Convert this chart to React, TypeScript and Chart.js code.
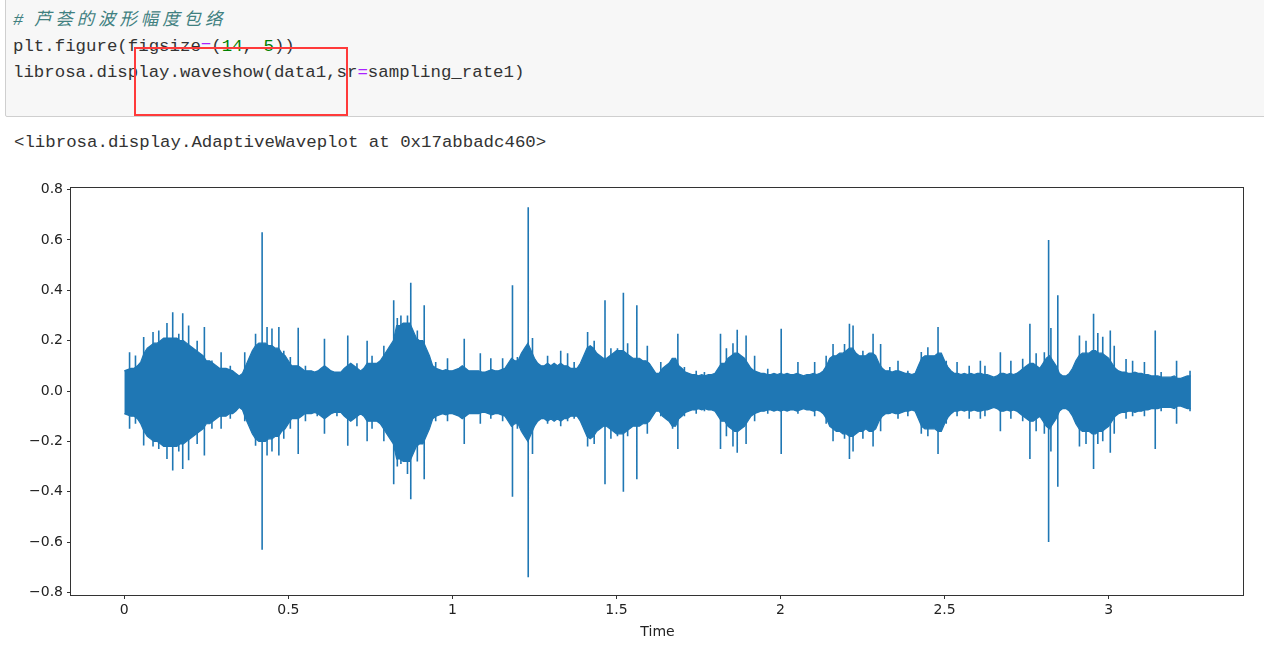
import React, { useEffect, useRef } from "react";
import { Chart, registerables } from "chart.js";

Chart.register(...registerables);

// dense body of the waveform, sampled every TIME_STEP seconds (upper / lower edge)
const TIME_STEP = 0.01;
const envHi = [
  0.08, 0.085, 0.09, 0.09, 0.10, 0.115, 0.15, 0.17, 0.18, 0.19,
  0.19, 0.20, 0.21, 0.21, 0.21, 0.21, 0.21, 0.20, 0.20, 0.19,
  0.18, 0.17, 0.16, 0.15, 0.14, 0.12, 0.12, 0.11, 0.10, 0.09,
  0.09, 0.09, 0.085, 0.08, 0.07, 0.06, 0.07, 0.10, 0.13, 0.16,
  0.18, 0.19, 0.19, 0.19, 0.18, 0.18, 0.17, 0.17, 0.15, 0.14,
  0.12, 0.10, 0.10, 0.10, 0.09, 0.08, 0.08, 0.08, 0.075, 0.08,
  0.09, 0.10, 0.09, 0.08, 0.075, 0.075, 0.075, 0.09, 0.10, 0.11,
  0.10, 0.09, 0.08, 0.09, 0.11, 0.11, 0.11, 0.11, 0.12, 0.14,
  0.16, 0.18, 0.20, 0.26, 0.26, 0.27, 0.27, 0.27, 0.24, 0.21,
  0.20, 0.20, 0.17, 0.14, 0.10, 0.09, 0.085, 0.08, 0.085, 0.08,
  0.08, 0.085, 0.09, 0.10, 0.09, 0.08, 0.08, 0.08, 0.08, 0.075,
  0.075, 0.08, 0.085, 0.08, 0.08, 0.085, 0.09, 0.11, 0.13, 0.12,
  0.12, 0.15, 0.17, 0.19, 0.16, 0.13, 0.11, 0.10, 0.10, 0.11,
  0.10, 0.11, 0.10, 0.11, 0.10, 0.10, 0.09, 0.09, 0.09, 0.11,
  0.14, 0.17, 0.18, 0.17, 0.15, 0.14, 0.13, 0.13, 0.14, 0.15,
  0.16, 0.16, 0.16, 0.15, 0.14, 0.13, 0.13, 0.13, 0.12, 0.12,
  0.11, 0.09, 0.07, 0.07, 0.09, 0.10, 0.11, 0.13, 0.13, 0.10,
  0.09, 0.075, 0.07, 0.065, 0.065, 0.06, 0.065, 0.06, 0.065, 0.065,
  0.07, 0.09, 0.11, 0.11, 0.13, 0.14, 0.15, 0.15, 0.14, 0.13,
  0.11, 0.09, 0.08, 0.075, 0.07, 0.07, 0.065, 0.065, 0.07, 0.065,
  0.07, 0.065, 0.07, 0.065, 0.065, 0.07, 0.065, 0.06, 0.065, 0.065,
  0.07, 0.065, 0.07, 0.08, 0.10, 0.13, 0.14, 0.14, 0.15, 0.15,
  0.16, 0.17, 0.17, 0.15, 0.14, 0.14, 0.14, 0.15, 0.15, 0.14,
  0.11, 0.09, 0.08, 0.08, 0.075, 0.08, 0.08, 0.075, 0.07, 0.07,
  0.065, 0.07, 0.10, 0.13, 0.14, 0.14, 0.14, 0.14, 0.15, 0.15,
  0.12, 0.095, 0.08, 0.07, 0.07, 0.065, 0.07, 0.065, 0.07, 0.065,
  0.07, 0.07, 0.065, 0.065, 0.06, 0.055, 0.06, 0.07, 0.07, 0.065,
  0.07, 0.065, 0.07, 0.08, 0.09, 0.10, 0.11, 0.11, 0.10, 0.09,
  0.11, 0.13, 0.14, 0.12, 0.10, 0.07, 0.06, 0.06, 0.07, 0.09,
  0.12, 0.14, 0.15, 0.15, 0.15, 0.16, 0.16, 0.15, 0.15, 0.14,
  0.13, 0.11, 0.09, 0.08, 0.075, 0.075, 0.07, 0.07, 0.075, 0.07,
  0.07, 0.065, 0.065, 0.06, 0.06, 0.06, 0.055, 0.055, 0.055, 0.055,
  0.06, 0.05, 0.05, 0.055, 0.06, 0.06,
];
const envLo = [
  -0.09, -0.095, -0.10, -0.10, -0.11, -0.13, -0.16, -0.18, -0.19, -0.20,
  -0.20, -0.21, -0.22, -0.22, -0.22, -0.22, -0.22, -0.21, -0.21, -0.20,
  -0.19, -0.18, -0.17, -0.16, -0.15, -0.13, -0.13, -0.12, -0.11, -0.10,
  -0.10, -0.10, -0.09, -0.09, -0.08, -0.065, -0.075, -0.11, -0.14, -0.17,
  -0.19, -0.20, -0.20, -0.20, -0.19, -0.19, -0.18, -0.18, -0.16, -0.15,
  -0.13, -0.11, -0.11, -0.11, -0.10, -0.09, -0.09, -0.09, -0.085, -0.09,
  -0.10, -0.11, -0.10, -0.09, -0.085, -0.085, -0.085, -0.10, -0.11, -0.12,
  -0.11, -0.10, -0.09, -0.10, -0.12, -0.12, -0.12, -0.12, -0.13, -0.15,
  -0.17, -0.19, -0.21, -0.27, -0.27, -0.28, -0.28, -0.28, -0.25, -0.22,
  -0.21, -0.21, -0.18, -0.15, -0.11, -0.10, -0.095, -0.09, -0.095, -0.09,
  -0.09, -0.095, -0.10, -0.11, -0.10, -0.09, -0.09, -0.09, -0.09, -0.085,
  -0.085, -0.09, -0.095, -0.09, -0.09, -0.095, -0.10, -0.12, -0.14, -0.13,
  -0.13, -0.16, -0.18, -0.20, -0.17, -0.14, -0.12, -0.11, -0.11, -0.12,
  -0.11, -0.12, -0.11, -0.12, -0.11, -0.11, -0.10, -0.10, -0.10, -0.12,
  -0.15, -0.18, -0.19, -0.18, -0.16, -0.15, -0.14, -0.14, -0.15, -0.16,
  -0.17, -0.17, -0.17, -0.16, -0.15, -0.14, -0.14, -0.14, -0.13, -0.13,
  -0.12, -0.10, -0.08, -0.08, -0.10, -0.11, -0.12, -0.14, -0.14, -0.11,
  -0.10, -0.085, -0.08, -0.075, -0.075, -0.07, -0.075, -0.07, -0.075, -0.075,
  -0.08, -0.10, -0.12, -0.12, -0.14, -0.15, -0.16, -0.16, -0.15, -0.14,
  -0.12, -0.10, -0.09, -0.085, -0.08, -0.08, -0.075, -0.075, -0.08, -0.075,
  -0.08, -0.075, -0.08, -0.075, -0.075, -0.08, -0.075, -0.07, -0.075, -0.075,
  -0.08, -0.075, -0.08, -0.09, -0.11, -0.14, -0.15, -0.16, -0.16, -0.17,
  -0.17, -0.18, -0.18, -0.17, -0.16, -0.16, -0.15, -0.16, -0.16, -0.15,
  -0.12, -0.10, -0.09, -0.09, -0.085, -0.09, -0.09, -0.085, -0.08, -0.08,
  -0.075, -0.08, -0.11, -0.14, -0.15, -0.15, -0.15, -0.15, -0.16, -0.16,
  -0.13, -0.105, -0.09, -0.08, -0.08, -0.075, -0.08, -0.075, -0.08, -0.075,
  -0.08, -0.08, -0.075, -0.075, -0.07, -0.065, -0.07, -0.08, -0.08, -0.075,
  -0.08, -0.075, -0.08, -0.09, -0.10, -0.11, -0.12, -0.12, -0.11, -0.10,
  -0.12, -0.14, -0.15, -0.13, -0.11, -0.08, -0.07, -0.07, -0.08, -0.10,
  -0.13, -0.15, -0.16, -0.16, -0.16, -0.17, -0.17, -0.16, -0.16, -0.15,
  -0.14, -0.12, -0.10, -0.09, -0.085, -0.085, -0.08, -0.08, -0.085, -0.08,
  -0.08, -0.075, -0.075, -0.07, -0.07, -0.07, -0.065, -0.065, -0.065, -0.065,
  -0.07, -0.06, -0.06, -0.065, -0.07, -0.07,
];

// individual peaks ("hairs") sticking out of the body
const spikeTime = [
  0.016, 0.034, 0.059, 0.0875, 0.105, 0.130, 0.1475, 0.166, 0.178, 0.196,
  0.222, 0.244, 0.267, 0.295, 0.323, 0.367, 0.400, 0.420, 0.435, 0.450,
  0.471, 0.486, 0.506, 0.530, 0.552, 0.588, 0.610, 0.648, 0.681, 0.709,
  0.740, 0.755, 0.791, 0.821, 0.832, 0.843, 0.863, 0.873, 0.893, 0.914,
  0.949, 0.985, 1.036, 1.085, 1.117, 1.153, 1.183, 1.198, 1.231, 1.244,
  1.290, 1.330, 1.351, 1.371, 1.412, 1.432, 1.465, 1.483, 1.503, 1.521,
  1.534, 1.562, 1.594, 1.635, 1.671, 1.687, 1.707, 1.743, 1.768, 1.817,
  1.835, 1.855, 1.868, 1.895, 1.921, 1.961, 2.002, 2.053, 2.104, 2.139,
  2.160, 2.195, 2.210, 2.221, 2.251, 2.282, 2.305, 2.333, 2.358, 2.388,
  2.429, 2.449, 2.480, 2.505, 2.538, 2.575, 2.609, 2.623, 2.670, 2.702,
  2.738, 2.760, 2.779, 2.804, 2.817, 2.824, 2.845, 2.911, 2.931, 2.954,
  2.967, 2.982, 3.005, 3.017, 3.053, 3.073, 3.109, 3.142, 3.160, 3.207,
  3.248,
];
const spikeHi = [
  0.154, 0.141, 0.214, 0.234, 0.24, 0.27, 0.313, 0.227, 0.309, 0.26,
  0.20, 0.254, 0.121, 0.154, 0.10, 0.154, 0.227, 0.63, 0.254, 0.248,
  0.254, 0.16, 0.135, 0.251, 0.10, 0.075, 0.207, 0.07, 0.22, 0.11,
  0.20, 0.14, 0.18, 0.36, 0.29, 0.30, 0.30, 0.43, 0.24, 0.34,
  0.115, 0.13, 0.207, 0.15, 0.13, 0.13, 0.42, 0.135, 0.73, 0.21,
  0.14, 0.16, 0.15, 0.115, 0.234, 0.20, 0.36, 0.17, 0.17, 0.39,
  0.19, 0.34, 0.18, 0.115, 0.13, 0.227, 0.095, 0.08, 0.075, 0.227,
  0.17, 0.19, 0.243, 0.22, 0.14, 0.088, 0.247, 0.115, 0.115, 0.14,
  0.187, 0.187, 0.267, 0.26, 0.16, 0.227, 0.187, 0.095, 0.12, 0.08,
  0.155, 0.174, 0.254, 0.12, 0.115, 0.10, 0.12, 0.10, 0.154, 0.12,
  0.128, 0.267, 0.15, 0.154, 0.60, 0.25, 0.38, 0.22, 0.20, 0.307,
  0.23, 0.215, 0.24, 0.18, 0.127, 0.12, 0.115, 0.24, 0.075, 0.12,
  0.08,
];
const spikeLo = [
  -0.15, -0.13, -0.216, -0.22, -0.23, -0.27, -0.316, -0.24, -0.31, -0.275,
  -0.21, -0.256, -0.15, -0.15, -0.11, -0.12, -0.217, -0.63, -0.256, -0.24,
  -0.256, -0.19, -0.15, -0.25, -0.12, -0.10, -0.17, -0.10, -0.217, -0.14,
  -0.20, -0.15, -0.20, -0.37, -0.30, -0.29, -0.33, -0.43, -0.28, -0.35,
  -0.12, -0.12, -0.21, -0.13, -0.11, -0.12, -0.42, -0.15, -0.74, -0.25,
  -0.13, -0.14, -0.12, -0.11, -0.22, -0.21, -0.37, -0.19, -0.18, -0.40,
  -0.18, -0.35, -0.17, -0.10, -0.15, -0.23, -0.10, -0.09, -0.08, -0.23,
  -0.18, -0.22, -0.245, -0.21, -0.12, -0.09, -0.25, -0.09, -0.10, -0.13,
  -0.20, -0.19, -0.27, -0.24, -0.19, -0.22, -0.16, -0.09, -0.11, -0.10,
  -0.17, -0.18, -0.25, -0.13, -0.10, -0.11, -0.11, -0.10, -0.16, -0.11,
  -0.12, -0.27, -0.16, -0.17, -0.60, -0.24, -0.38, -0.22, -0.21, -0.31,
  -0.21, -0.20, -0.245, -0.17, -0.11, -0.10, -0.10, -0.23, -0.08, -0.13,
  -0.08,
];

const X_MIN = -0.1625;
const X_MAX = 3.4125;
const Y_MIN = -0.81;
const Y_MAX = 0.81;
const xTickStep = 0.5;
const yTickStep = 0.2;

const WAVE = "#1f77b4";

const framePlugin = {
  id: "frame",
  afterDraw(chart: any) {
    const { ctx, chartArea } = chart;
    const { left, top, right, bottom } = chartArea;
    ctx.save();
    ctx.strokeStyle = "#333";
    ctx.lineWidth = 1;
    ctx.strokeRect(Math.round(left) - 0.5, Math.round(top) + 0.5, Math.round(right - left), Math.round(bottom - top));
    ctx.restore();
  },
};

function WaveChart() {
  const ref = useRef<HTMLCanvasElement | null>(null);
  useEffect(() => {
    if (!ref.current) return;
    const hi = envHi.map((v, i) => ({ x: i * TIME_STEP, y: v }));
    const lo = envLo.map((v, i) => ({ x: i * TIME_STEP, y: v }));
    const spikes: any[] = [];
    spikeTime.forEach((t, i) => {
      spikes.push({ x: t, y: spikeLo[i] });
      spikes.push({ x: t, y: spikeHi[i] });
      spikes.push({ x: t, y: null });
    });
    const fmt = (v: number, d: number) => {
      const s = Math.abs(v) < 1e-9 ? (0).toFixed(d) : v.toFixed(d);
      return s.replace("-", "\u2212");
    };
    const chart = new Chart(ref.current, {
      type: "line",
      data: {
        datasets: [
          {
            data: hi,
            borderColor: WAVE,
            backgroundColor: WAVE,
            borderWidth: 1.2,
            pointRadius: 0,
            fill: "+1",
            tension: 0,
          },
          {
            data: lo,
            borderColor: WAVE,
            backgroundColor: WAVE,
            borderWidth: 1.2,
            pointRadius: 0,
            fill: false,
            tension: 0,
          },
          {
            data: spikes,
            borderColor: WAVE,
            borderWidth: 1.6,
            pointRadius: 0,
            fill: false,
            spanGaps: false,
          },
        ],
      } as any,
      options: {
        responsive: false,
        animation: false,
        events: [],
        layout: { padding: { left: 0, right: 20, top: 27, bottom: 0 } },
        plugins: { legend: { display: false }, tooltip: { enabled: false } },
        scales: {
          x: {
            type: "linear",
            min: X_MIN,
            max: X_MAX,
            offset: false,
            afterFit: (s: any) => {
              s.height = 46;
            },
            border: { display: false },
            grid: { drawOnChartArea: false, drawTicks: true, tickLength: 4, color: "#333" },
            ticks: {
              stepSize: xTickStep,
              includeBounds: false,
              color: "#222",
              padding: 3,
              maxRotation: 0,
              autoSkip: false,
              font: { family: "'DejaVu Sans'", size: 14 },
              callback: (v: any) => String(Number(v)),
            },
            title: {
              display: true,
              text: "Time",
              color: "#222",
              font: { family: "'DejaVu Sans'", size: 14 },
              padding: { top: 4, bottom: 0 },
            },
          },
          y: {
            type: "linear",
            min: Y_MIN,
            max: Y_MAX,
            afterFit: (s: any) => {
              s.width = 71;
            },
            border: { display: false },
            grid: { drawOnChartArea: false, drawTicks: true, tickLength: 4, color: "#333" },
            ticks: {
              stepSize: yTickStep,
              includeBounds: false,
              color: "#222",
              padding: 4,
              autoSkip: false,
              font: { family: "'DejaVu Sans'", size: 14 },
              callback: (v: any) => fmt(Number(v), 1),
            },
          },
        },
      },
      plugins: [framePlugin],
    } as any);
    return () => chart.destroy();
  }, []);
  return (
    <canvas
      ref={ref}
      width={1264}
      height={481}
      style={{ position: "absolute", left: 0, top: 160, width: 1264, height: 481 }}
    />
  );
}

const mono = "'Liberation Mono', 'Noto Sans CJK SC', monospace";

export default function App() {
  return (
    <div
      style={{
        position: "fixed",
        left: 0,
        top: 0,
        width: 1264,
        height: 655,
        background: "#fff",
        overflow: "hidden",
        fontFamily: mono,
      }}
    >
      <div
        style={{
          position: "absolute",
          left: 5,
          top: -2,
          width: 1300,
          height: 119,
          background: "#f7f7f7",
          border: "1px solid #cfcfcf",
          borderRadius: 2,
          boxSizing: "border-box",
        }}
      />
      <div
        style={{
          position: "absolute",
          left: 13,
          top: 8,
          fontSize: 17.4,
          lineHeight: "26px",
          color: "#333",
          whiteSpace: "pre",
        }}
      >
        <div style={{ color: "#408080", fontStyle: "italic" }}>
          # <span style={{ letterSpacing: 4 }}>芦荟的波形幅度包络</span>
        </div>
        <div>
          plt.figure(figsize<span style={{ color: "#aa22ff" }}>=</span>(<span style={{ color: "#008000" }}>14</span>,{" "}
          <span style={{ color: "#008000" }}>5</span>))
        </div>
        <div>
          librosa.display.waveshow(data1,sr<span style={{ color: "#aa22ff" }}>=</span>sampling_rate1)
        </div>
      </div>
      <div
        style={{
          position: "absolute",
          left: 134,
          top: 47,
          width: 214,
          height: 69,
          border: "2px solid #ff3a3a",
          boxSizing: "border-box",
        }}
      />
      <div
        style={{
          position: "absolute",
          left: 14,
          top: 130,
          fontSize: 17.4,
          lineHeight: "26px",
          color: "#333",
          whiteSpace: "pre",
        }}
      >
        {"<librosa.display.AdaptiveWaveplot at 0x17abbadc460>"}
      </div>
      <WaveChart />
    </div>
  );
}
